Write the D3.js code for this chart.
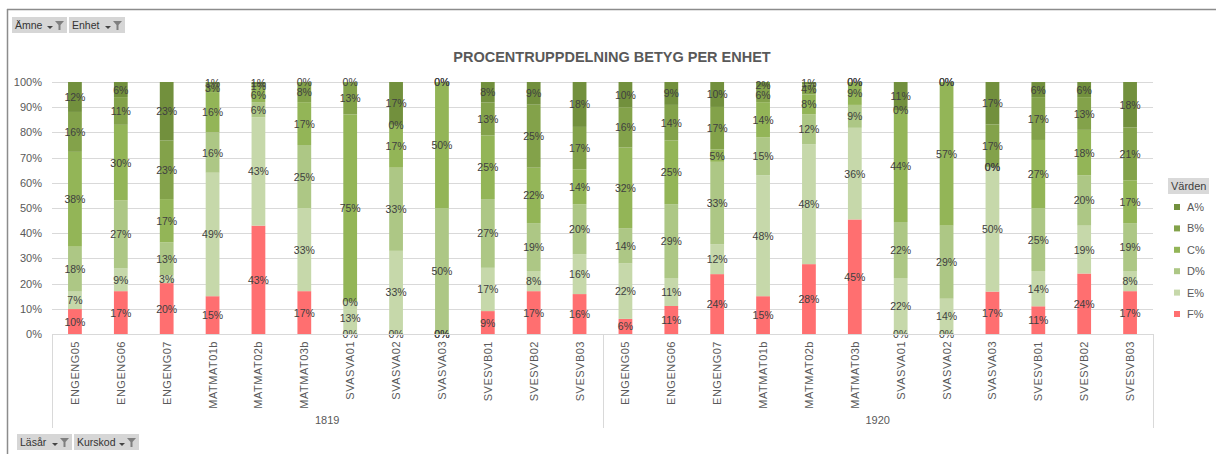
<!DOCTYPE html>
<html lang="sv">
<head>
<meta charset="utf-8">
<title>Procentruppdelning betyg per enhet</title>
<script src="https://d3js.org/d3.v7.min.js"></script>
<style>
  body { margin: 0; background: #fff; }
  text { font-family: "Liberation Sans", Arial, sans-serif; }
</style>
</head>
<body>
<div id="chart"></div>
<script>
// data (percent of each course)
var courses = ['ENGENG05','ENGENG06','ENGENG07','MATMAT01b','MATMAT02b','MATMAT03b',
               'SVASVA01','SVASVA02','SVASVA03','SVESVB01','SVESVB02','SVESVB03'];
var years = ['1819', '1920'];
var series = ['F%', 'E%', 'D%', 'C%', 'B%', 'A%'];

var F = [10,17,20,15,43,17, 0, 0, 0, 9,17,16,   6,11,24,15,28,45, 0, 0,17,11,24,17];
var E = [ 7, 9, 3,49,43,33,13,33, 0,17, 8,16,  22,11,12,48,48,36,22,14,50,14,19, 8];
var D = [18,27,13,16, 6,25, 0,33,50,27,19,20,  14,29,33,15,12, 9,22,29, 0,25,20,19];
var C = [38,30,17,16, 6,17,75,17,50,25,22,14,  32,25, 5,14, 8, 9,44,57, 0,27,18,17];
var B = [16,11,23, 3, 1, 8,13, 0, 0,13,25,17,  16,14,17, 6, 4, 0, 0, 0,17,17,13,21];
var A = [12, 6,23, 1, 1, 0, 0,17, 0, 8, 9,18,  10, 9,10, 2, 1, 0,11, 0,17, 6, 6,18];

var yTicks = [0,10,20,30,40,50,60,70,80,90,100];

var colors = {
  'A%': '#72903d', 'B%': '#83a24a', 'C%': '#93b557',
  'D%': '#adc785', 'E%': '#c6d8aa', 'F%': '#ff6f70'
};

var W = 1216, H = 454;
var plotL = 52, plotR = 1153, plotT = 82, plotB = 334;

var svg = d3.select("#chart").append("svg")
    .attr("width", W).attr("height", H);

// frame
svg.append("line").attr("x1", 7.5).attr("x2", 7.5).attr("y1", 9).attr("y2", H)
   .attr("stroke", "#8c8c8c").attr("stroke-width", 1.5);
svg.append("line").attr("x1", 7).attr("x2", W).attr("y1", 9.5).attr("y2", 9.5)
   .attr("stroke", "#8c8c8c").attr("stroke-width", 1.5);

// build rows
var keys = [];
years.forEach(function(yr) { courses.forEach(function(c) { keys.push(yr + '|' + c); }); });
var raw = { 'F%': F, 'E%': E, 'D%': D, 'C%': C, 'B%': B, 'A%': A };
var rows = keys.map(function(k, i) {
  var r = { key: k };
  series.forEach(function(s) { r[s] = raw[s][i]; });
  return r;
});

var x = d3.scaleBand().domain(keys).range([plotL, plotR])
    .paddingInner(0.7).paddingOuter(0.35);
var y = d3.scaleLinear().domain([0, 100]).range([plotB, plotT]);

// gridlines
svg.append("g").selectAll("line").data(yTicks.slice(1)).enter().append("line")
   .attr("x1", plotL).attr("x2", plotR)
   .attr("y1", function(d) { return Math.round(y(d)) + 0.5; })
   .attr("y2", function(d) { return Math.round(y(d)) + 0.5; })
   .attr("stroke", "#d9d9d9");

// y axis labels
var yAxis = svg.append("g").attr("transform", "translate(" + plotL + ",0)")
   .call(d3.axisLeft(y).tickValues(yTicks).tickSize(0).tickPadding(10)
         .tickFormat(function(d) { return d + '%'; }));
yAxis.select(".domain").remove();
yAxis.selectAll("text").attr("fill", "#595959").style("font-size", "11px");

// stacked 100% bars
var stack = d3.stack().keys(series)
    .offset(d3.stackOffsetExpand);
var layers = stack(rows);

var g = svg.append("g");
layers.forEach(function(layer) {
  var s = layer.key;
  g.selectAll(null).data(layer).enter().append("rect")
    .attr("x", function(d) { return x(d.data.key); })
    .attr("width", x.bandwidth())
    .attr("y", function(d) { return y(d[1] * 100); })
    .attr("height", function(d) { return y(d[0] * 100) - y(d[1] * 100); })
    .attr("fill", colors[s]);
});

// data labels
layers.forEach(function(layer) {
  var s = layer.key;
  g.selectAll(null).data(layer).enter().append("text")
    .attr("x", function(d) { return x(d.data.key) + x.bandwidth() / 2; })
    .attr("y", function(d) { return y((d[0] + d[1]) / 2 * 100) + 4; })
    .attr("text-anchor", "middle")
    .attr("fill", "#404040")
    .style("font-size", "10.5px")
    .text(function(d) { return d.data[s] + '%'; });
});

// category axis
svg.append("line").attr("x1", plotL).attr("x2", plotR)
   .attr("y1", plotB + 0.5).attr("y2", plotB + 0.5).attr("stroke", "#d9d9d9");
var sep = [plotL, x(keys[12]) - x.step() * x.paddingInner() / 2, plotR];
svg.append("g").selectAll("line").data(sep).enter().append("line")
   .attr("x1", function(d) { return Math.round(d) + 0.5; })
   .attr("x2", function(d) { return Math.round(d) + 0.5; })
   .attr("y1", plotB).attr("y2", 428)
   .attr("stroke", "#d9d9d9");

svg.append("g").selectAll("text").data(keys).enter().append("text")
   .attr("transform", function(d) {
     return "translate(" + (x(d) + x.bandwidth() / 2 + 4) + "," + (plotB + 7) + ") rotate(-90)";
   })
   .attr("text-anchor", "end")
   .attr("fill", "#595959")
   .style("font-size", "11px")
   .style("letter-spacing", "0.5px")
   .text(function(d) { return d.split('|')[1]; });

svg.append("g").selectAll("text").data(years).enter().append("text")
   .attr("x", function(d, i) { return (sep[i] + sep[i + 1]) / 2; })
   .attr("y", 424)
   .attr("text-anchor", "middle")
   .attr("fill", "#595959")
   .style("font-size", "11px")
   .text(function(d) { return d; });

// title
svg.append("text").attr("x", 612).attr("y", 62)
   .attr("text-anchor", "middle")
   .attr("fill", "#595959")
   .style("font-size", "14.5px").style("font-weight", "bold")
   .text("PROCENTRUPPDELNING BETYG PER ENHET");

// legend
svg.append("rect").attr("x", 1168).attr("y", 178).attr("width", 41).attr("height", 16)
   .attr("fill", "#d9d9d9");
svg.append("text").attr("x", 1171).attr("y", 190).attr("fill", "#404040")
   .style("font-size", "11px").text("Värden");
var legendItems = series.slice().reverse();
var lg = svg.append("g").selectAll("g").data(legendItems).enter().append("g")
   .attr("transform", function(d, i) { return "translate(1174," + (207 + i * 21.4) + ")"; });
lg.append("rect").attr("x", 0).attr("y", -3).attr("width", 6).attr("height", 6)
   .attr("fill", function(d) { return colors[d]; });
lg.append("text").attr("x", 13).attr("y", 4).attr("fill", "#595959")
   .style("font-size", "11px").text(function(d) { return d; });

// pivot field buttons: label, then dropdown arrow and funnel
function fieldButton(x0, y0, w, label) {
  var b = svg.append("g").attr("transform", "translate(" + x0 + "," + y0 + ")");
  b.append("rect").attr("width", w).attr("height", 16).attr("fill", "#d6d6d6");
  b.append("text").attr("x", 3).attr("y", 12).attr("fill", "#333")
   .style("font-size", "10.5px").text(label);
  b.append("path").attr("d", "M" + (w - 20) + ",9 h6 l-3,3 z").attr("fill", "#444");
  b.append("path").attr("d", "M" + (w - 12) + ",4 h9 l-3.5,4 v5 h-2 v-5 z").attr("fill", "#7f7f7f");
}
fieldButton(12, 17, 55, "Ämne");
fieldButton(69, 17, 56, "Enhet");
fieldButton(17, 434, 55, "Läsår");
fieldButton(74, 434, 65, "Kurskod");
</script>
</body>
</html>
